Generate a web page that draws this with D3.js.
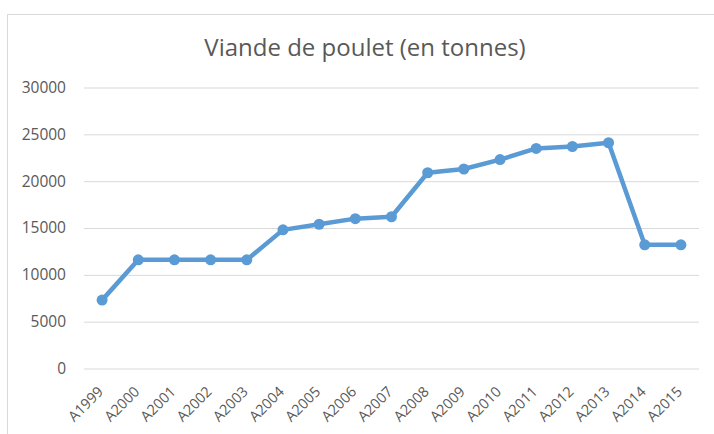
<!DOCTYPE html>
<html>
<head>
<meta charset="utf-8">
<script src="https://cdn.jsdelivr.net/npm/d3@7"></script>
<style>
  body { margin: 0; background: #fff; }
  text { font-family: "Open Sans", "Liberation Sans", sans-serif; fill: #595959; }
</style>
</head>
<body>
<div id="chart"></div>
<script>
// data
var years = ['A1999', 'A2000', 'A2001', 'A2002', 'A2003', 'A2004', 'A2005', 'A2006', 'A2007',
             'A2008', 'A2009', 'A2010', 'A2011', 'A2012', 'A2013', 'A2014', 'A2015'];
var tonnes = [7300, 11600, 11600, 11600, 11600, 14800, 15400, 16000, 16200,
              20900, 21300, 22300, 23500, 23700, 24100, 13200, 13200];
var yTicks = [0, 5000, 10000, 15000, 20000, 25000, 30000];
var title = 'Viande de poulet (en tonnes)';

// build canvas
var width = 714,
	height = 434;

var svg = d3.select('#chart')
			.append('svg')
			.attr('width', width)
			.attr('height', height);

// chart frame
svg.append('rect')
	.attr('x', 7.5)
	.attr('y', 14.5)
	.attr('width', 720)
	.attr('height', 440)
	.attr('fill', 'none')
	.attr('stroke', '#d9d9d9');

var plot = { left: 84, right: 699, top: 87.5, bottom: 368.5 };

// scales
var x = d3.scaleBand()
		.domain(years)
		.range([plot.left, plot.right]);

var y = d3.scaleLinear()
		.domain([0, 30000])
		.range([plot.bottom, plot.top]);

// title
svg.append('text')
	.attr('x', 365)
	.attr('y', 56)
	.attr('text-anchor', 'middle')
	.attr('font-size', 24)
	.text(title);

// gridlines + y labels
var yAxis = svg.append('g')
	.attr('transform', 'translate(' + plot.left + ',0)')
	.call(d3.axisLeft(y).tickValues(yTicks).tickSize(-(plot.right - plot.left)).tickPadding(18).tickFormat(d3.format('d')));
yAxis.attr('font-size', 15.5).attr('font-family', null);
yAxis.select('.domain').remove();
yAxis.selectAll('.tick line').attr('stroke', '#d9d9d9');
yAxis.selectAll('.tick text').attr('fill', '#595959');

// x labels, rotated
var xAxis = svg.append('g')
	.attr('transform', 'translate(0,' + plot.bottom + ')')
	.call(d3.axisBottom(x).tickSize(0));
xAxis.attr('font-size', 14.5).attr('font-family', null);
xAxis.select('.domain').remove();
xAxis.selectAll('.tick text')
	.attr('fill', '#595959')
	.attr('text-anchor', 'end')
	.attr('dy', null)
	.attr('transform', 'translate(0,22) rotate(-45)');

// line
var line = d3.line()
	.x((d, i) => x(years[i]) + x.bandwidth() / 2)
	.y(d => y(d));

svg.append('path')
	.datum(tonnes)
	.attr('fill', 'none')
	.attr('stroke', '#5b9bd5')
	.attr('stroke-width', 4.5)
	.attr('stroke-linejoin', 'round')
	.attr('d', line);

svg.append('g')
	.selectAll('circle')
	.data(tonnes).enter()
	.append('circle')
	.attr('cx', (d, i) => x(years[i]) + x.bandwidth() / 2)
	.attr('cy', d => y(d))
	.attr('r', 5.5)
	.attr('fill', '#5b9bd5');
</script>
</body>
</html>
